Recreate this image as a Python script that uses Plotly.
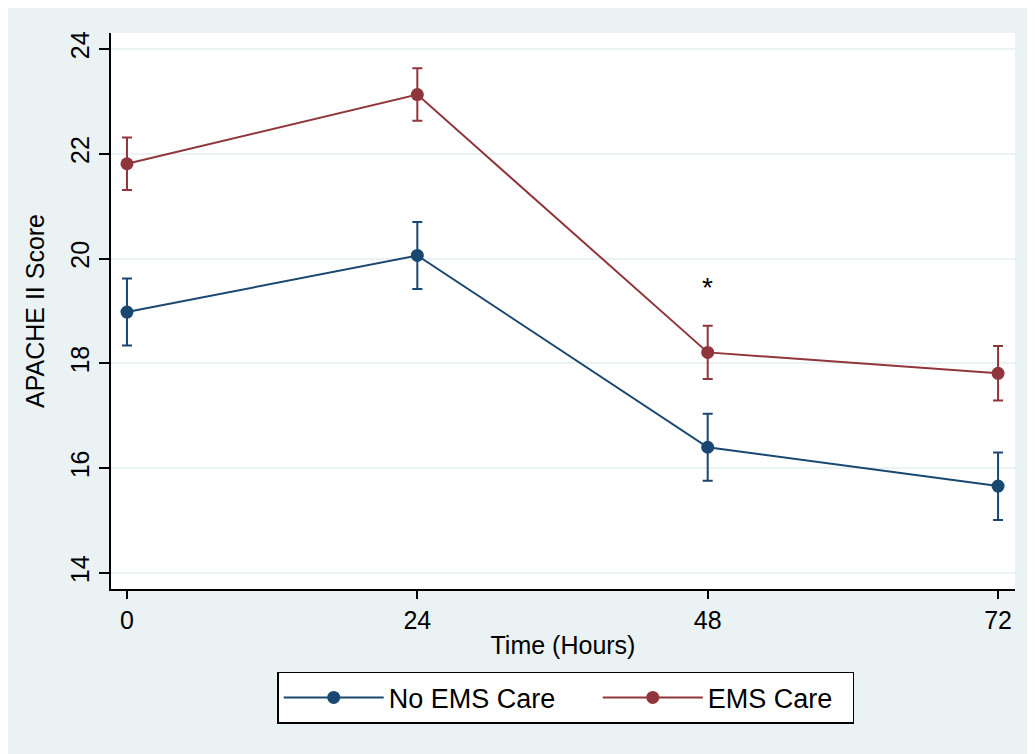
import plotly.graph_objects as go

hours = [0, 24, 48, 72]
tick_labels = ["0", "24", "48", "72"]

no_ems_mean = [18.98, 20.06, 16.40, 15.66]
no_ems_upper = [19.62, 20.70, 17.04, 16.30]
no_ems_lower = [18.34, 19.42, 15.76, 15.01]

ems_mean = [21.81, 23.13, 18.21, 17.81]
ems_upper = [22.31, 23.63, 18.72, 18.33]
ems_lower = [21.31, 22.63, 17.70, 17.29]

y_ticks = [14, 16, 18, 20, 22, 24]
star_x, star_y = 48, 19.45

NAVY = "rgb(26,71,111)"
MAROON = "rgb(144,53,59)"
BG = "rgb(234,242,243)"
NB = "\u00a0"

def err(mean, up, lo):
    return dict(type="data", symmetric=False,
                array=[u - m for u, m in zip(up, mean)],
                arrayminus=[m - l for m, l in zip(mean, lo)])

fig = go.Figure()
for name, mean, up, lo, col in [
    ("No EMS Care" + NB * 5, no_ems_mean, no_ems_upper, no_ems_lower, NAVY),
    ("EMS Care" + NB * 2, ems_mean, ems_upper, ems_lower, MAROON),
]:
    e = err(mean, up, lo)
    e.update(color=col, thickness=2, width=5)
    fig.add_trace(go.Scatter(
        x=hours, y=mean, name=name, mode="lines+markers",
        line=dict(color=col, width=2),
        marker=dict(color=col, size=13),
        error_y=e,
    ))

fig.add_annotation(x=star_x, y=star_y, text="*", showarrow=False,
                   font=dict(size=28, color="black"))

fig.update_layout(
    width=1035, height=754,
    margin=dict(l=103, r=28, t=25, b=173),
    paper_bgcolor=BG,
    plot_bgcolor="white",
    font=dict(family="Liberation Sans, Arial, sans-serif", color="black", size=25),
    showlegend=True,
    legend=dict(
        orientation="h", x=0.503, xanchor="center", y=-0.149, yanchor="top",
        bordercolor="black", borderwidth=1.5, bgcolor="white",
        font=dict(size=27), itemwidth=100,
    ),
)

fig.update_xaxes(
    range=[-1.32, 73.4], tickvals=hours, ticktext=tick_labels,
    showgrid=False, zeroline=False,
    showline=True, linecolor="black", linewidth=1.5,
    ticks="outside", ticklen=8, tickwidth=1.5, tickcolor="black",
    tickfont=dict(size=25),
    title=dict(text="Time (Hours)", font=dict(size=25), standoff=4),
)
fig.update_yaxes(
    range=[13.695, 24.305], tickvals=y_ticks,
    showgrid=True, gridcolor=BG, gridwidth=1.5, zeroline=False,
    showline=True, linecolor="black", linewidth=1.5,
    ticks="outside", ticklen=10, tickwidth=1.5, tickcolor="black",
    tickangle=-90, tickfont=dict(size=25),
    title=dict(text="APACHE II Score", font=dict(size=25), standoff=15),
)

fig.write_html("out.html")
